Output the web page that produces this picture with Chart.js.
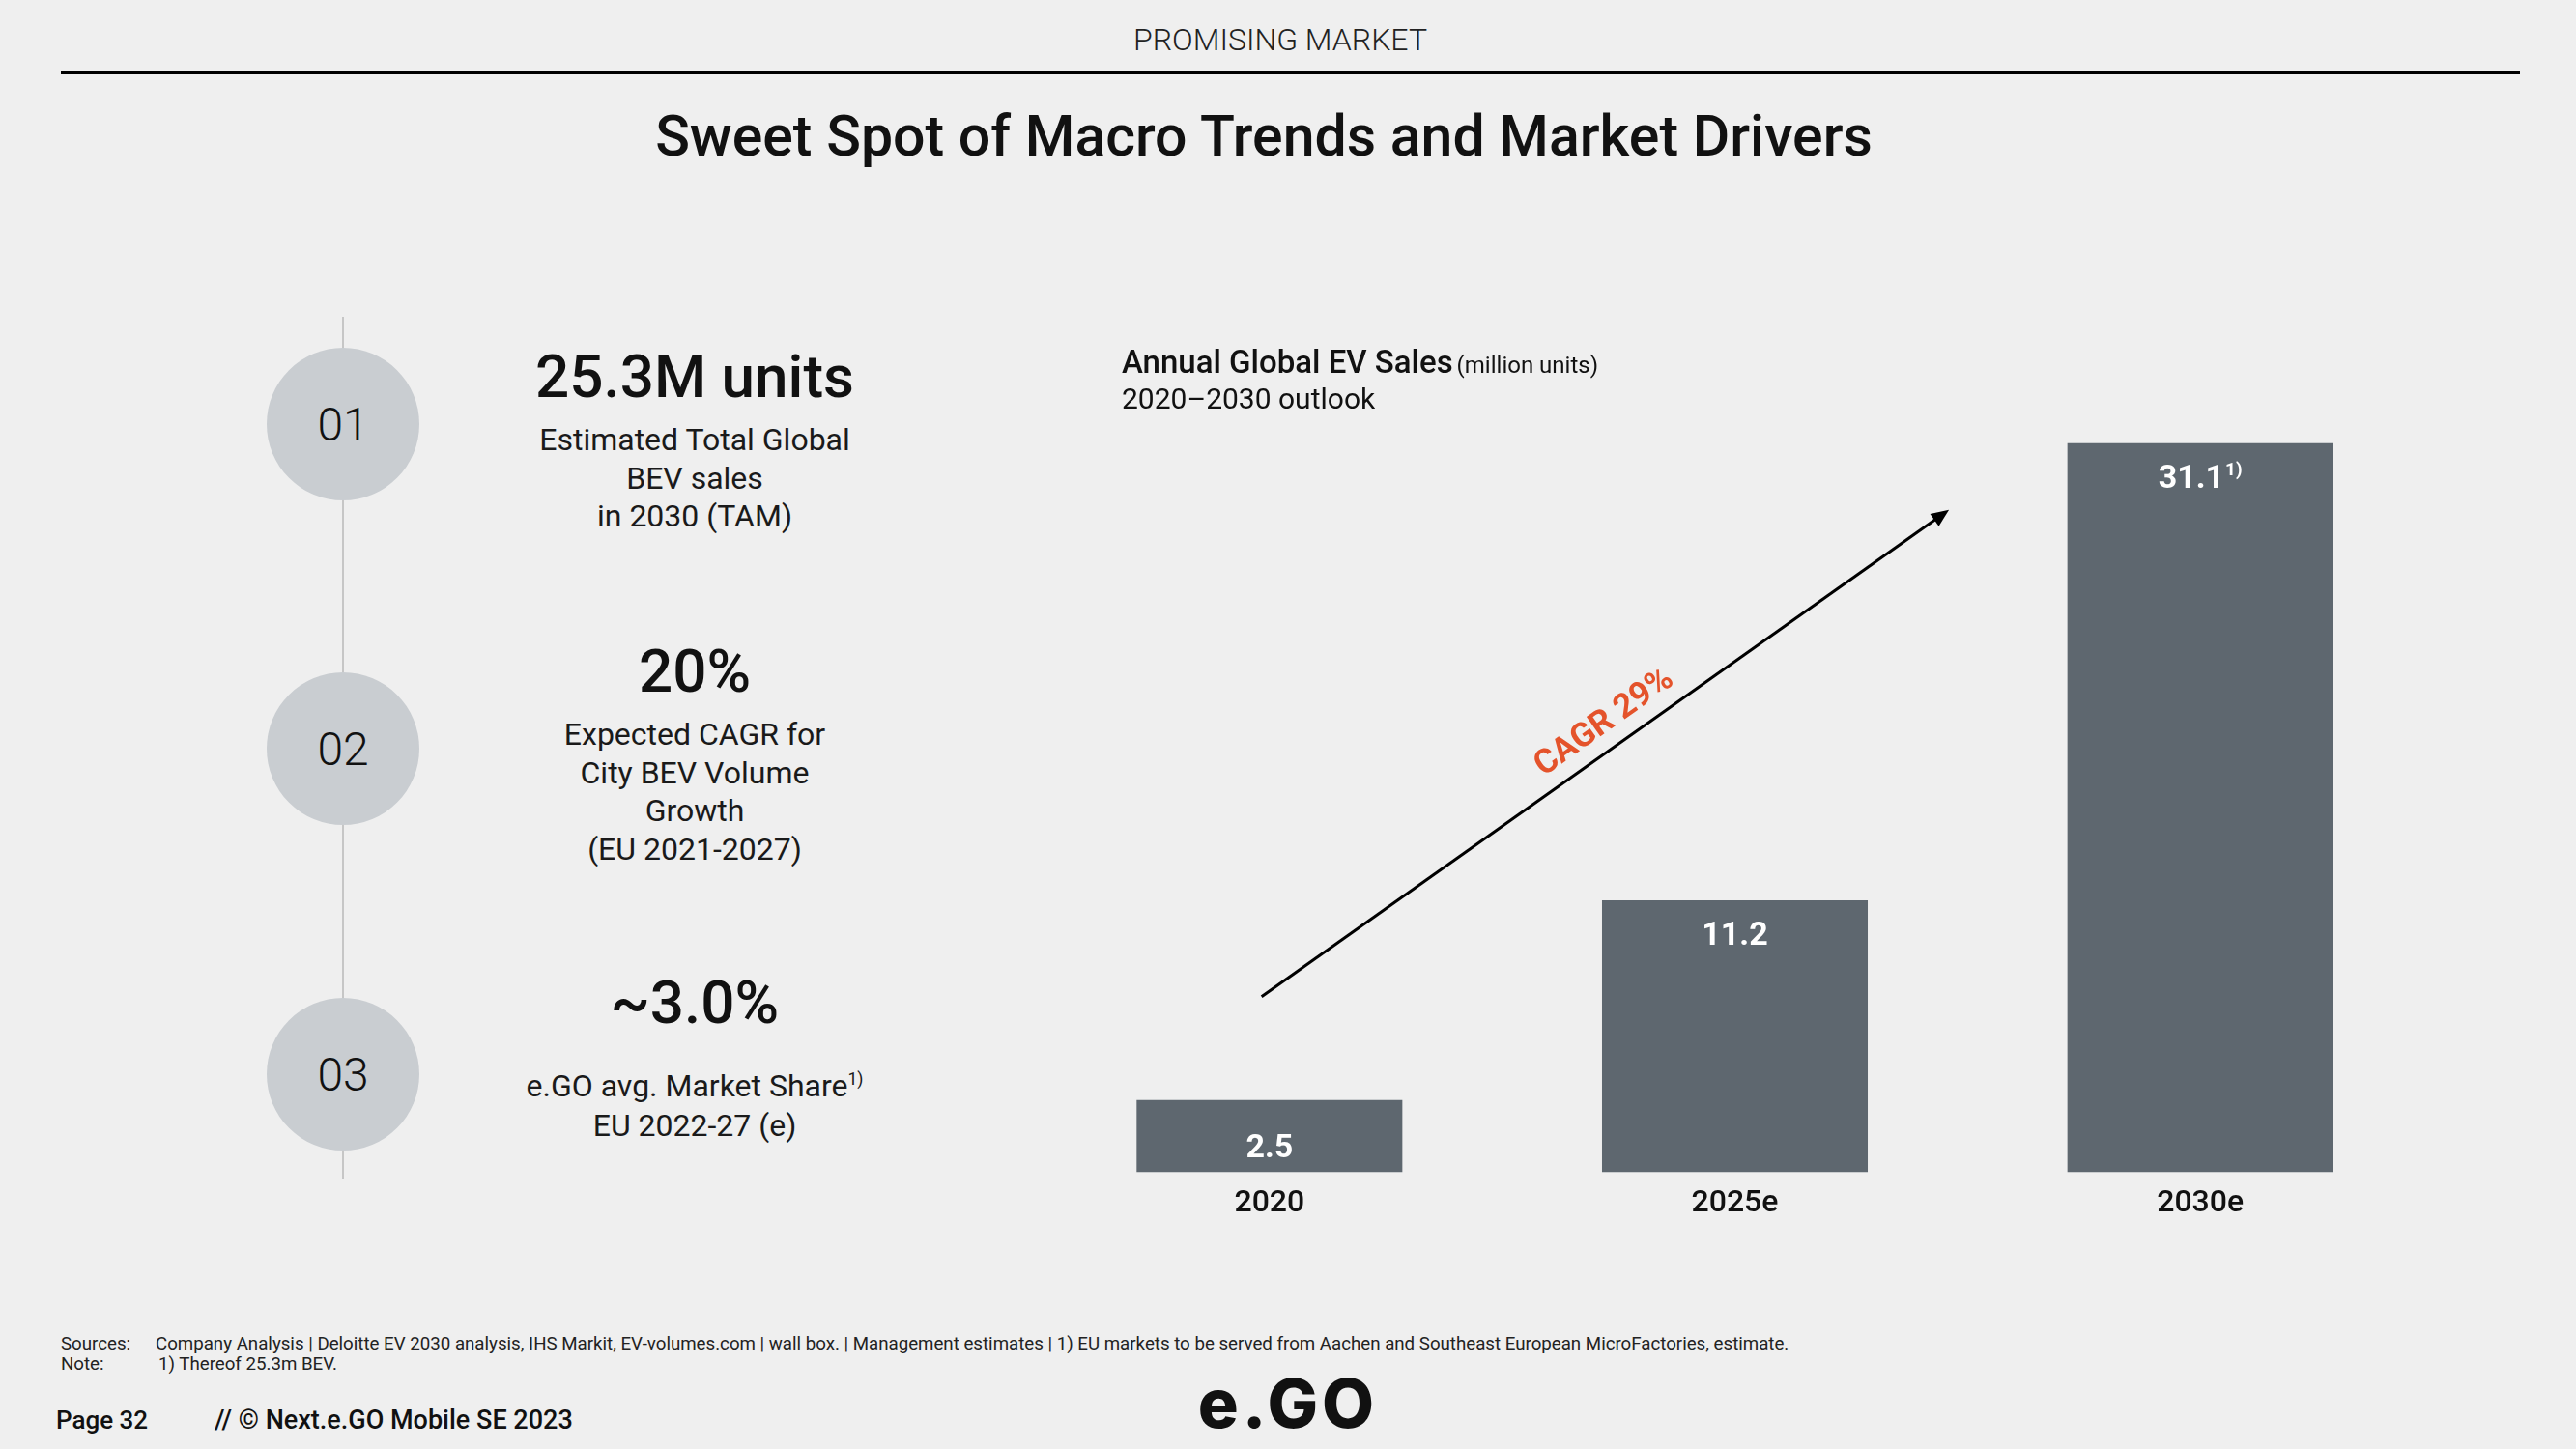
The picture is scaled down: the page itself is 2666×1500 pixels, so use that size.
<!DOCTYPE html>
<html>
<head>
<meta charset="utf-8">
<script src="https://cdn.jsdelivr.net/npm/chart.js@4.4.1/dist/chart.umd.min.js"></script>
<style>
  html, body { margin: 0; padding: 0; }
  body {
    width: 2666px; height: 1500px; position: relative; overflow: hidden;
    background: #efefef; font-family: Roboto, "Noto Sans", sans-serif; color: #111;
  }
  .abs { position: absolute; white-space: nowrap; }
  .center { transform: translateX(-50%); text-align: center; }
  .circle {
    position: absolute; width: 158px; height: 158px; border-radius: 50%;
    background: #c9cdd1; display: flex; align-items: center; justify-content: center;
    font-size: 48px; font-weight: 300; color: #111;
  }
  .big { font-size: 62px; font-weight: 500; line-height: 70px; }
  .body { font-size: 32px; font-weight: 400; line-height: 39.5px; color: #1a1a1a; }
  .foot { font-size: 18.7px; line-height: 22px; color: #222; }
  sup { font-size: 0.55em; vertical-align: 0.7em; line-height: 0; }
  #chart-wrap { position: absolute; left: 1073px; top: 300px; width: 1445px; height: 978px; }
</style>
</head>
<body>

<div class="abs center" style="left:1325px; top:21px; font-size:32px; font-weight:300; line-height:40px; color:#222;">PROMISING MARKET</div>
<div class="abs" style="left:63px; top:74px; width:2545px; height:3px; background:#000;"></div>
<div class="abs center" style="left:1308px; top:101px; font-size:59px; font-weight:500; line-height:80px;">Sweet Spot of Macro Trends and Market Drivers</div>

<!-- left timeline -->
<div class="abs" style="left:354px; top:328px; width:2px; height:893px; background:#c6c6c6;"></div>
<div class="circle" style="left:276px; top:360px;">01</div>
<div class="circle" style="left:276px; top:696px;">02</div>
<div class="circle" style="left:276px; top:1033px;">03</div>

<div class="abs center big" style="left:719px; top:355px;">25.3M units</div>
<div class="abs center body" style="left:719px; top:436px;">Estimated Total Global<br>BEV sales<br>in 2030 (TAM)</div>

<div class="abs center big" style="left:719px; top:660px;">20%</div>
<div class="abs center body" style="left:719px; top:741px;">Expected CAGR for<br>City BEV Volume<br>Growth<br>(EU 2021-2027)</div>

<div class="abs center big" style="left:719px; top:1003px;">~3.0%</div>
<div class="abs center body" style="left:719px; top:1104px; line-height:41px;">e.GO avg. Market Share<sup>1)</sup><br>EU 2022-27 (e)</div>

<!-- chart heading -->
<div class="abs" style="left:1161px; top:355px; line-height:40px; z-index:2;">
  <span style="font-size:33px; font-weight:500;">Annual Global EV Sales</span>
  <span style="font-size:24px; font-weight:400;">(million units)</span>
</div>
<div class="abs" style="left:1161px; top:395px; font-size:30px; line-height:36px; z-index:2;">2020–2030 outlook</div>

<div id="chart-wrap"><canvas id="chart"></canvas></div>

<!-- footer -->
<div class="abs foot" style="left:63px; top:1380px;">Sources:</div>
<div class="abs foot" style="left:161px; top:1380px;">Company Analysis | Deloitte EV 2030 analysis, IHS Markit, EV-volumes.com | wall box. | Management estimates | 1) EU markets to be served from Aachen and Southeast European MicroFactories, estimate.</div>
<div class="abs foot" style="left:63px; top:1401px;">Note:</div>
<div class="abs foot" style="left:164px; top:1401px;">1) Thereof 25.3m BEV.</div>
<div class="abs" style="left:58px; top:1454px; font-size:26px; font-weight:500; line-height:32px;">Page 32</div>
<div class="abs" style="left:222px; top:1454px; font-size:27px; font-weight:500; line-height:32px;">// © Next.e.GO Mobile SE 2023</div>
<div class="abs center" style="left:1333px; top:1418px; font-family:Inter, sans-serif; font-size:70px; font-weight:800; line-height:70px; letter-spacing:4px;">e.GO</div>

<script>
const categories = ['2020', '2025e', '2030e'];
const sales = [2.5, 11.2, 31.1];
const valueLabels = ['2.5', '11.2', '31.1'];
const valueNotes = ['', '', '1)'];

// trend arrow in data units: [category index, value]
const cagrFrom = [-0.017, 7.0];
const cagrTo = [1.46, 28.2];
const cagrText = 'CAGR 29%';

const yMin = -0.65;
const yMax = 37.78;

const barLabels = {
    id: 'barLabels',
    afterDatasetsDraw(chart) {
        const { ctx } = chart;
        const meta = chart.getDatasetMeta(0);
        ctx.save();
        ctx.fillStyle = '#fff';
        ctx.textBaseline = 'middle';
        meta.data.forEach((bar, i) => {
            // short bar: label near the bottom, tall bars: near the top
            const y = (bar.base - bar.y) > 120 ? bar.y + 38 : bar.base - 24;
            ctx.font = '700 34px Roboto';
            const w = ctx.measureText(valueLabels[i]).width;
            ctx.font = '700 19px Roboto';
            const nw = valueNotes[i] ? ctx.measureText(valueNotes[i]).width + 1 : 0;
            const x0 = bar.x - (w + nw) / 2;
            ctx.font = '700 34px Roboto';
            ctx.textAlign = 'left';
            ctx.fillText(valueLabels[i], x0, y);
            if (valueNotes[i]) {
                ctx.font = '700 19px Roboto';
                ctx.fillText(valueNotes[i], x0 + w + 1, y - 10);
            }
        });
        ctx.restore();
    }
};

const trendArrow = {
    id: 'trendArrow',
    afterDatasetsDraw(chart) {
        const { ctx, scales: { x, y } } = chart;
        const x1 = x.getPixelForValue(cagrFrom[0]), y1 = y.getPixelForValue(cagrFrom[1]);
        const x2 = x.getPixelForValue(cagrTo[0]), y2 = y.getPixelForValue(cagrTo[1]);
        const ang = Math.atan2(y2 - y1, x2 - x1);
        const head = 20;
        ctx.save();
        ctx.strokeStyle = '#000';
        ctx.fillStyle = '#000';
        ctx.lineWidth = 3;
        ctx.beginPath();
        ctx.moveTo(x1, y1);
        ctx.lineTo(x2 - Math.cos(ang) * head * 0.8, y2 - Math.sin(ang) * head * 0.8);
        ctx.stroke();
        ctx.beginPath();
        ctx.moveTo(x2, y2);
        ctx.lineTo(x2 - head * Math.cos(ang - 0.4), y2 - head * Math.sin(ang - 0.4));
        ctx.lineTo(x2 - head * Math.cos(ang + 0.4), y2 - head * Math.sin(ang + 0.4));
        ctx.closePath();
        ctx.fill();

        // label sits just above the middle of the arrow
        const t = 0.52;
        const mx = x1 + (x2 - x1) * t + Math.sin(ang) * 26;
        const my = y1 + (y2 - y1) * t - Math.cos(ang) * 26;
        ctx.translate(mx, my);
        ctx.rotate(ang);
        ctx.fillStyle = '#e4532b';
        ctx.font = '700 35px Roboto';
        ctx.textAlign = 'center';
        ctx.textBaseline = 'middle';
        ctx.fillText(cagrText, 0, 0);
        ctx.restore();
    }
};

new Chart(document.getElementById('chart'), {
    type: 'bar',
    data: {
        labels: categories,
        datasets: [{
            data: sales,
            base: yMin,
            backgroundColor: '#5e676f',
            borderWidth: 0,
            categoryPercentage: 1,
            barPercentage: 0.571
        }]
    },
    options: {
        responsive: true,
        maintainAspectRatio: false,
        animation: false,
        layout: { padding: 0 },
        plugins: { legend: { display: false }, tooltip: { enabled: false } },
        scales: {
            x: {
                grid: { display: false, drawTicks: false },
                border: { display: false },
                ticks: { padding: 13, color: '#111', font: { family: 'Roboto', size: 32, weight: '500' } }
            },
            y: { display: false, min: yMin, max: yMax }
        }
    },
    plugins: [barLabels, trendArrow]
});
</script>
</body>
</html>
